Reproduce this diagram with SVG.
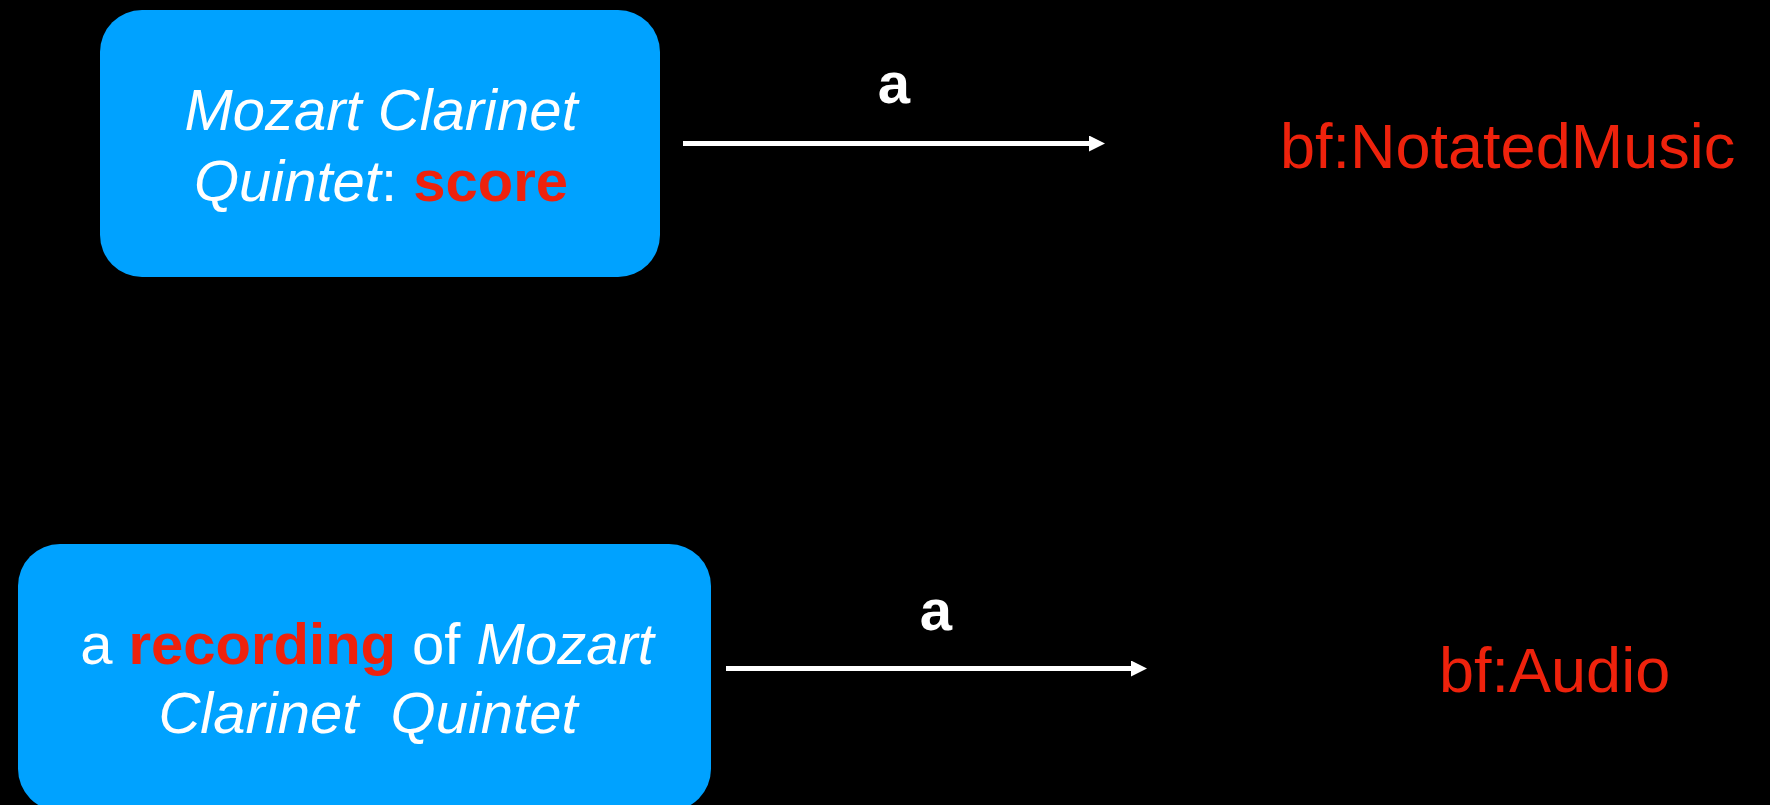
<svg xmlns="http://www.w3.org/2000/svg" width="1770" height="805" viewBox="0 0 1770 805">
<style>
  .box { fill: #00A2FF; }
  .t { font-family: "Liberation Sans", Arial, sans-serif; font-size: 58px; fill: #FFFFFF; text-anchor: middle; white-space: pre; }
  .it { font-style: italic; }
  .red { fill: #EE220C; font-weight: bold; }
  .lbl { font-family: "Liberation Sans", Arial, sans-serif; font-size: 58px; font-weight: bold; fill: #FFFFFF; text-anchor: middle; }
  .cls { font-family: "Liberation Sans", Arial, sans-serif; font-size: 63px; fill: #EE220C; }
  .edge { stroke: #FFFFFF; stroke-width: 5; fill: none; }
</style>
<defs>
  <marker id="ah" markerUnits="userSpaceOnUse" markerWidth="18" markerHeight="18" refX="1" refY="8" orient="auto">
    <path d="M0,0 L16,8 L0,16 Z" fill="#FFFFFF"/>
  </marker>
</defs>
<rect x="0" y="0" width="1770" height="805" fill="#000000"/>

<g id="node-score">
  <rect class="box" x="100" y="10" width="560" height="267" rx="42" ry="42"/>
  <text class="t" x="381" y="130"><tspan class="it">Mozart Clarinet</tspan></text>
  <text class="t" x="381" y="201"><tspan class="it">Quintet</tspan>: <tspan class="red">score</tspan></text>
</g>

<g id="node-recording">
  <rect class="box" x="18" y="544" width="693" height="267" rx="42" ry="42"/>
  <text class="t" x="367" y="664">a <tspan class="red">recording</tspan> of <tspan class="it">Mozart</tspan></text>
  <text class="t it" x="368" y="733" xml:space="preserve">Clarinet  Quintet</text>
</g>

<g id="node-notated">
  <text class="cls" x="1280" y="168">bf:NotatedMusic</text>
</g>

<g id="node-audio">
  <text class="cls" x="1439" y="692">bf:Audio</text>
</g>

<g id="connectors">
  <line class="edge" x1="683" y1="143.5" x2="1090" y2="143.5" marker-end="url(#ah)"/>
  <text class="lbl" x="894" y="103">a</text>
  <line class="edge" x1="726" y1="668.5" x2="1132" y2="668.5" marker-end="url(#ah)"/>
  <text class="lbl" x="936" y="630">a</text>
</g>
</svg>
